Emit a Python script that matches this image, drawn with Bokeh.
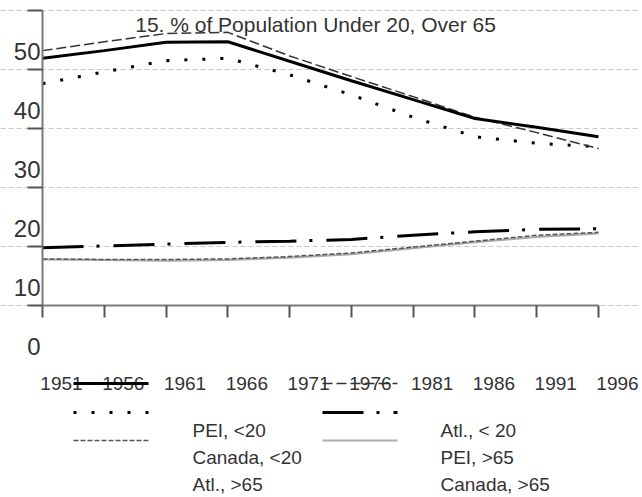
from bokeh.plotting import figure
from bokeh.models import Label, Arrow, FixedTicker, Range1d, LinearAxis, Grid
from bokeh.embed import file_html
from bokeh.resources import INLINE

# ---- data ----
years = [1951, 1956, 1961, 1966, 1971, 1976, 1981, 1986, 1991, 1996]
pei_u20 = [41.9, 43.2, 44.6, 44.7, 41.4, 38.1, 34.9, 31.7, 30.2, 28.6]
atl_u20 = [43.2, 44.7, 46.1, 46.3, 42.3, 38.8, 35.4, 31.9, 29.3, 26.6]
can_u20 = [37.6, 39.6, 41.5, 41.9, 39.1, 35.7, 31.9, 28.6, 27.5, 26.9]
pei_o65 = [9.8, 10.1, 10.4, 10.7, 10.9, 11.2, 11.9, 12.5, 12.9, 13.0]
atl_o65 = [7.9, 7.8, 7.8, 7.9, 8.3, 8.9, 9.9, 10.9, 11.9, 12.4]
can_o65 = [7.8, 7.7, 7.6, 7.7, 8.1, 8.7, 9.7, 10.7, 11.6, 12.2]
y_ticks = [0, 10, 20, 30, 40, 50]
x_ticks = years
series_names = ["PEI, <20", "Atl., < 20", "Canada, <20", "PEI, >65", "Atl., >65", "Canada, >65"]
series_values = [pei_u20, atl_u20, can_u20, pei_o65, atl_o65, can_o65]
title_text = "15.  % of Population Under 20, Over 65"

# ---- styles / layout ----
styles = [
    dict(color="#000000", width=3, dash="solid"),
    dict(color="#333333", width=1.5, dash="10 4"),
    dict(color="#000000", width=3, dash="3 15"),
    dict(color="#000000", width=3, dash="41 13 3 14"),
    dict(color="#555555", width=1.5, dash="5 2"),
    dict(color="#aaaaaa", width=2, dash="solid"),
]
FONT = "Liberation Sans"
TXT = "#333333"
W, H = 640, 495
# plot area in pixels (left, right, top, bottom)
L, R, T, B = 42, 598, 10, 305
x0, x1 = years[0], years[-1]
y0, y1 = y_ticks[0], y_ticks[-1]
xs = (R - L) / (x1 - x0)
ys = (B - T) / (y1 - y0)
xr = Range1d(x0 - L / xs, x1 + (W - R) / xs)
yr = Range1d(y0 - (H - B) / ys, y1 + T / ys)

p = figure(width=W, height=H, output_backend="svg", toolbar_location=None,
           x_range=xr, y_range=yr, x_axis_location=None, y_axis_location=None,
           min_border=0)
p.outline_line_color = None
p.center = [r for r in p.center if not isinstance(r, Grid)]

# shifted ranges used only for the tick labels (as drawn in the reference)
xlab_shift = 19 / xs
ylab_shift = 41 / ys
p.extra_x_ranges = {"xlab": Range1d(xr.start - xlab_shift, xr.end - xlab_shift)}
p.extra_y_ranges = {"ylab": Range1d(yr.start + ylab_shift, yr.end + ylab_shift)}

grid = Grid(dimension=1, ticker=FixedTicker(ticks=y_ticks), bounds=(x0, x1),
            grid_line_color="#c8c8c8", grid_line_dash="5 3", grid_line_width=1)
p.add_layout(grid)

# main axes (ticks and lines only)
xax = LinearAxis(fixed_location=y0, bounds=(x0, x1), ticker=FixedTicker(ticks=x_ticks))
yax = LinearAxis(fixed_location=x0, bounds=(y0, y1), ticker=FixedTicker(ticks=y_ticks))
for ax, tout in ((xax, 12), (yax, 15)):
    ax.major_label_text_color = None
    ax.axis_line_color = "#7a7a7a"
    ax.axis_line_width = 2
    ax.major_tick_line_color = "#555555"
    ax.major_tick_line_width = 2
    ax.major_tick_out = tout
    ax.major_tick_in = 0
    ax.minor_tick_line_color = None
p.add_layout(xax, "below")
p.add_layout(yax, "left")

# label axes
xlab = LinearAxis(x_range_name="xlab", fixed_location=y0, ticker=FixedTicker(ticks=x_ticks),
                  axis_line_color=None, major_tick_line_color=None, minor_tick_line_color=None,
                  major_tick_out=0, major_tick_in=0,
                  major_label_standoff=71, major_label_text_font=FONT,
                  major_label_text_font_size="19px", major_label_text_color=TXT)
ylab = LinearAxis(y_range_name="ylab", fixed_location=x0, ticker=FixedTicker(ticks=y_ticks),
                  axis_line_color=None, major_tick_line_color=None, minor_tick_line_color=None,
                  major_tick_out=0, major_tick_in=0,
                  major_label_standoff=2, major_label_text_font=FONT,
                  major_label_text_font_size="24px", major_label_text_color=TXT)
p.add_layout(xlab, "below")
p.add_layout(ylab, "left")

# data lines (light ones first)
for idx in [5, 4, 2, 1, 0, 3]:
    st = styles[idx]
    p.line(years, series_values[idx], line_color=st["color"], line_width=st["width"],
           line_dash=st["dash"])

# title inside the plot
p.add_layout(Label(x=318, y=H - 24, x_units="screen", y_units="screen", text=title_text,
                   text_align="center", text_baseline="middle",
                   text_font=FONT, text_font_size="21px", text_color=TXT))

# legend (samples and texts placed as in the reference)
col_sample_x = [73, 322]
col_text_x = [192, 440]
row_sample_y = [383, 412, 440]
row_text_y = [430, 457, 484]
for i, name in enumerate(series_names):
    r, c = divmod(i, 2)
    st = styles[i]
    p.add_layout(Arrow(start=None, end=None,
                       x_start=col_sample_x[c], y_start=H - row_sample_y[r],
                       x_end=col_sample_x[c] + 75, y_end=H - row_sample_y[r],
                       start_units="screen", end_units="screen",
                       line_color=st["color"], line_width=st["width"], line_dash=st["dash"]))
    p.add_layout(Label(x=col_text_x[c], y=H - row_text_y[r], x_units="screen", y_units="screen",
                       text=name, text_align="left", text_baseline="middle",
                       text_font=FONT, text_font_size="19px", text_color=TXT))

open("out.html", "w").write(file_html(p, INLINE))
